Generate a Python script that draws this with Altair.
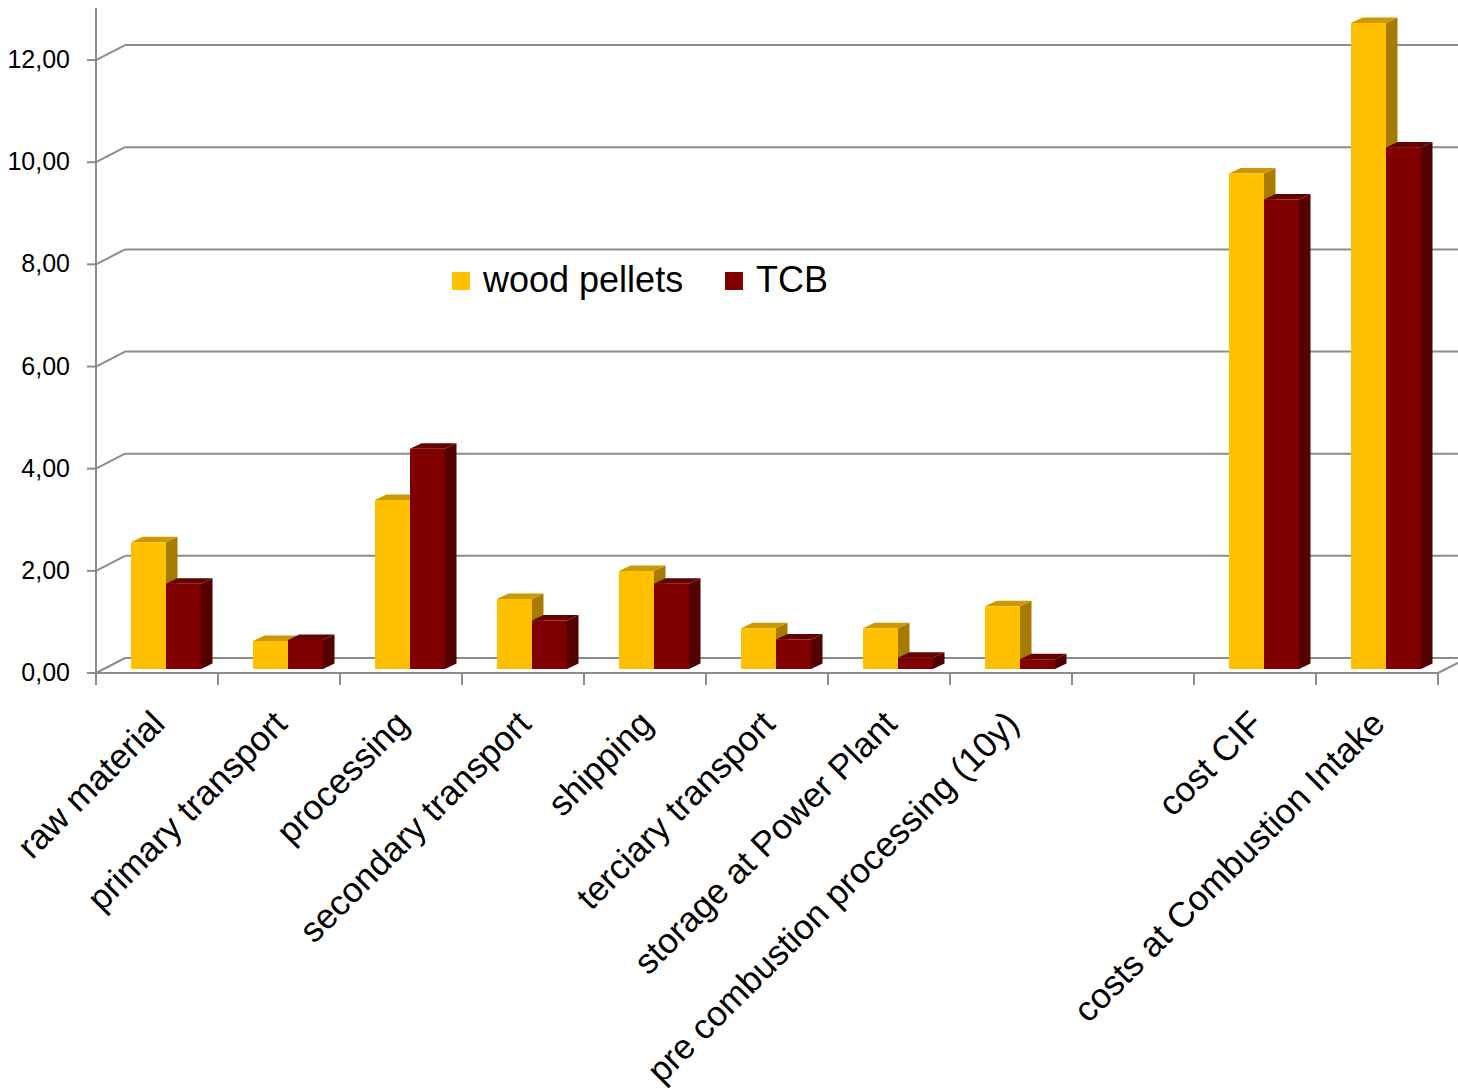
import altair as alt
import pandas as pd

# ---- chart data -----------------------------------------------------------
categories = [
    "raw material",
    "primary transport",
    "processing",
    "secondary transport",
    "shipping",
    "terciary transport",
    "storage at Power Plant",
    "pre combustion processing (10y)",
    "",
    "cost CIF",
    "costs at Combustion Intake",
]
wood_pellets = [2.48, 0.55, 3.31, 1.37, 1.92, 0.80, 0.80, 1.23, None, 9.70, 12.65]
tcb = [1.67, 0.57, 4.31, 0.95, 1.67, 0.58, 0.22, 0.19, None, 9.19, 10.21]
series_names = ["wood pellets", "TCB"]
y_ticks = [0, 2, 4, 6, 8, 10, 12]

# ---- styling ----------------------------------------------------------------
FONT = "Liberation Sans"
GRID = "#8C8C8C"
front_colors = ["#FFC000", "#800000"]
top_colors = ["#CC9900", "#660000"]
side_colors = ["#A67C00", "#520000"]

# ---- pseudo-3D geometry (slot units on x, value units on y) ------------------
N_SLOTS = len(categories)
W, H = 1342, 664          # plot area in px
Y_MAX = 13
SLOT_PX = W / N_SLOTS
LEAD = 35 / SLOT_PX       # gap from slot edge to first front face
BAR = 35 / SLOT_PX        # front face width
DX = 11.5 / SLOT_PX       # depth, horizontal
DY = 5.5 * Y_MAX / H      # depth, vertical
WALL_DX, WALL_DY = 29, 15  # back wall shift in px
BASE_LIFT = -4             # bars stand slightly behind the front edge

xscale = alt.Scale(domain=[0, N_SLOTS], nice=False, zero=False)
yscale = alt.Scale(domain=[0, Y_MAX], nice=False, zero=True)

fronts, tops, sides = [], [], []
for i in range(N_SLOTS):
    for s, values in enumerate([wood_pellets, tcb]):
        v = values[i]
        if v is None:
            continue
        x0 = i + LEAD + s * BAR
        x1 = x0 + BAR
        fronts.append({"x0": x0, "x1": x1, "v": v, "zero": 0, "series": series_names[s]})
        fid = f"{i}-{s}"
        for x, lo, hi in [(x0, v, v), (x0 + DX, v, v + DY), (x1, v, v + DY), (x1 + DX, v + DY, v + DY)]:
            tops.append({"face": fid, "x": x, "lo": lo, "hi": hi, "fill": top_colors[s]})
        for x, lo, hi in [(x1, 0, v), (x1 + DX, DY, v + DY)]:
            sides.append({"face": fid, "x": x, "lo": lo, "hi": hi, "fill": side_colors[s]})

front_df = pd.DataFrame(fronts)
top_df = pd.DataFrame(tops)
side_df = pd.DataFrame(sides)
tick_df = pd.DataFrame({"v": y_ticks, "label": [f"{t:.2f}".replace(".", ",") for t in y_ticks]})
bound_df = pd.DataFrame({"b": list(range(N_SLOTS + 1))})
cat_df = pd.DataFrame(
    {"c": [i + 0.5 for i, c in enumerate(categories) if c], "name": [c for c in categories if c]}
)
one_df = pd.DataFrame({"k": [0]})

X = lambda f: alt.X(f, scale=xscale, axis=None)
Y = lambda f: alt.Y(f, scale=yscale, axis=None, stack=False)

# ---- walls and axis lines -------------------------------------------------
back_grid = alt.Chart(tick_df).mark_rule(color=GRID, strokeWidth=2, yOffset=-WALL_DY).encode(
    y=Y("v:Q"), x=alt.value(WALL_DX), x2=alt.value(W + 20)
)
wall_diag = alt.Chart(tick_df).mark_rule(color=GRID, strokeWidth=2, y2Offset=-WALL_DY).encode(
    y=Y("v:Q"), y2=alt.Y2("v"), x=alt.value(0), x2=alt.value(WALL_DX)
)
y_ticks_front = alt.Chart(tick_df).mark_rule(color=GRID, strokeWidth=2).encode(
    y=Y("v:Q"), x=alt.value(-9), x2=alt.value(0)
)
y_labels = alt.Chart(tick_df).mark_text(
    align="right", baseline="middle", fontSize=25, font=FONT, color="black"
).encode(y=Y("v:Q"), x=alt.value(-26), text="label:N")
y_domain = alt.Chart(one_df).mark_rule(color=GRID, strokeWidth=2).encode(
    x=alt.value(0), y=alt.value(-1), y2=alt.value(H + 12)
)
front_edge = alt.Chart(one_df).mark_rule(color=GRID, strokeWidth=2).encode(
    x=alt.value(0), x2=alt.value(W), y=alt.value(H)
)
right_edge = alt.Chart(one_df).mark_rule(color=GRID, strokeWidth=2).encode(
    x=alt.value(W), x2=alt.value(W + 20), y=alt.value(H), y2=alt.value(H - 10)
)
x_ticks = alt.Chart(bound_df).mark_rule(color=GRID, strokeWidth=2).encode(
    x=X("b:Q"), y=alt.value(H), y2=alt.value(H + 12)
)
x_labels = alt.Chart(cat_df).mark_text(
    angle=315, align="right", baseline="top", fontSize=35, font=FONT, color="black", xOffset=-10
).encode(x=X("c:Q"), y=alt.value(H + 33), text="name:N")

# ---- bar faces --------------------------------------------------------------
side_layer = alt.Chart(side_df).mark_area(yOffset=BASE_LIFT, y2Offset=BASE_LIFT).encode(
    x=X("x:Q"), y=Y("hi:Q"), y2=alt.Y2("lo"), detail="face:N", color=alt.Color("fill:N", scale=None)
)
top_layer = alt.Chart(top_df).mark_area(yOffset=BASE_LIFT, y2Offset=BASE_LIFT).encode(
    x=X("x:Q"), y=Y("hi:Q"), y2=alt.Y2("lo"), detail="face:N", color=alt.Color("fill:N", scale=None)
)
front_layer = alt.Chart(front_df).mark_rect(yOffset=BASE_LIFT, y2Offset=BASE_LIFT).encode(
    x=X("x0:Q"),
    x2=alt.X2("x1"),
    y=Y("v:Q"),
    y2=alt.Y2("zero"),
    color=alt.Color(
        "series:N",
        scale=alt.Scale(domain=series_names, range=front_colors),
        legend=alt.Legend(
            orient="none",
            legendX=347,
            legendY=254,
            direction="horizontal",
            title=None,
            symbolType="square",
            symbolSize=324,
            symbolStrokeWidth=0,
            symbolOpacity=1,
            labelFontSize=36,
            labelFont=FONT,
            labelColor="black",
            labelLimit=500,
            labelOffset=4,
            columnPadding=32,
        ),
    ),
)

chart = (
    alt.layer(
        back_grid, wall_diag, y_ticks_front, y_domain, front_edge, right_edge, x_ticks,
        side_layer, top_layer, front_layer, y_labels, x_labels,
    )
    .properties(
        width=W,
        height=H,
        autosize=alt.AutoSizeParams(type="none"),
        padding={"left": 96, "top": 9, "right": 20, "bottom": 417},
        background="white",
    )
    .configure(font=FONT, view=alt.ViewConfig(strokeWidth=0, stroke=None))
)

chart.save("out.html", embed_options={"renderer": "svg", "actions": False})
